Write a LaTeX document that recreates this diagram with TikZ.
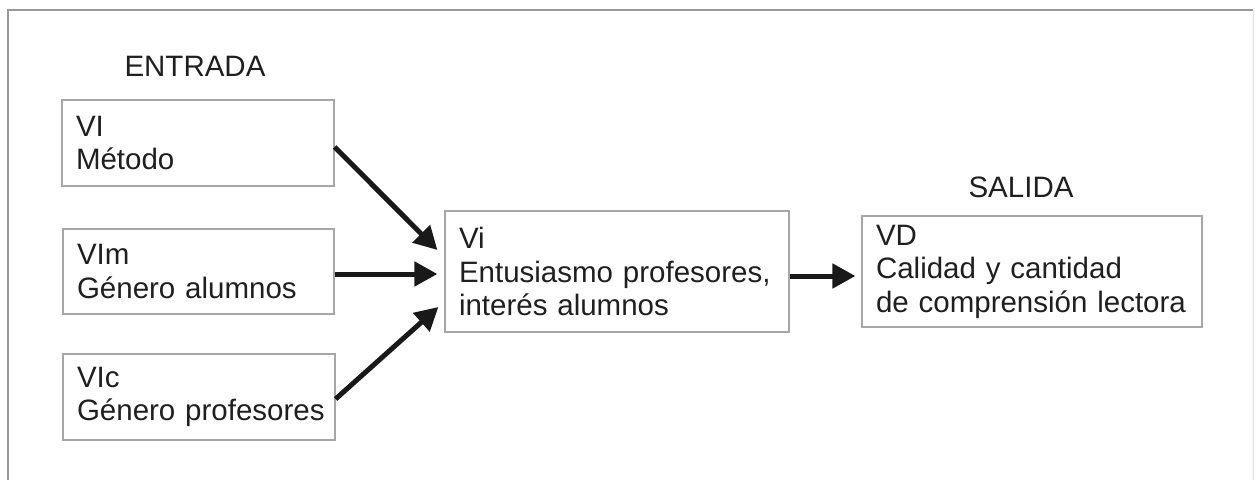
\documentclass[tikz,border=0pt]{standalone}
\usepackage{fontspec}
\setmainfont{Liberation Sans}
\usetikzlibrary{arrows.meta}

\begin{document}
\begin{tikzpicture}[x=1pt, y=1pt, font=\fontsize{29.5}{33.5}\selectfont, text=black!88,
	box/.style={draw=black!35, line width=1.2pt, align=left, inner xsep=14pt, inner ysep=0pt},
	flow/.style={-{Triangle[length=23pt,width=24pt]}, line width=5pt, draw=black!90}]
	\useasboundingbox (0,0) rectangle (1255,480);
	\draw[black!40, line width=1.2pt] (8,0) |- (1253,470);
	\draw[black!12, line width=1pt] (1253,470) -- (1253,0);

	\node[anchor=base] (entrada) at (195,403) {ENTRADA};
	\node[anchor=base] (salida) at (1021,282) {SALIDA};

	\node[box, text width=244pt, minimum height=86pt] (vmet) at (198,337) {VI\\Método};
	\node[box, text width=243pt, minimum height=85pt] (valum) at (198.5,208.5) {VIm\\Género alumnos};
	\node[box, text width=244pt, minimum height=86pt] (vprof) at (199,83) {VIc\\\mbox{Género profesores}};
	\node[box, text width=316pt, minimum height=121pt] (vi) at (617,208.5) {Vi\\Entusiasmo profesores,\\interés alumnos};
	\node[box, text width=312pt, minimum height=111pt] (vd) at (1032,208.5) {VD\\Calidad y cantidad\\de comprensión lectora};

	\path ([yshift=-4pt]vmet.east) edge[flow] ([shift={(-7pt,21.5pt)}]vi.west);
	\path ([yshift=-2.5pt]valum.east) edge[flow] ([shift={(-7pt,-2.5pt)}]vi.west);
	\path ([yshift=-2pt]vprof.east) edge[flow] ([shift={(-6pt,-35.5pt)}]vi.west);
	\path ([yshift=-4.5pt]vi.east) edge[flow] ([shift={(-6pt,-4.5pt)}]vd.west);
\end{tikzpicture}
\end{document}
